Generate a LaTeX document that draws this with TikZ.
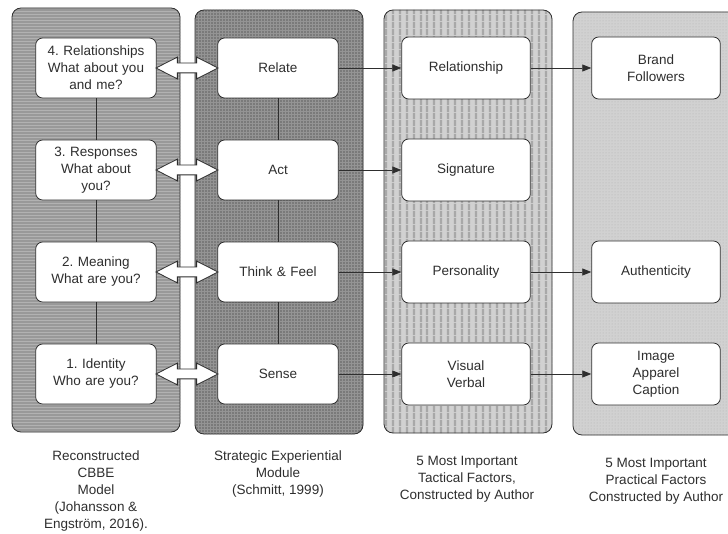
\documentclass[tikz,border=0pt]{standalone}
\usepackage{fontspec}
\setmainfont{Liberation Sans}
\usetikzlibrary{shapes, shapes.arrows, arrows.meta, patterns, patterns.meta, calc}

\definecolor{inkgray}{HTML}{2E2E2E}
\newcommand{\boxfont}{\fontsize{13.5}{17}\selectfont}

\tikzstyle{boxes} = [rectangle, rounded corners=7pt, minimum width=120pt, minimum height=60pt, text width=114pt,
align=center, draw=inkgray, line width=0.8pt, fill=white, text=inkgray, font=\boxfont]
\tikzstyle{wideBoxes} = [boxes, minimum width=128pt, minimum height=62pt, text width=122pt]
\tikzstyle{bigArrow} = [double arrow, draw=inkgray, fill=white, line width=0.8pt, inner xsep=0pt, inner ysep=4.5pt,
minimum height=62pt, double arrow head extend=6pt, double arrow tip angle=54]
\tikzstyle{line} = [line width=0.8pt, draw=inkgray]
\tikzstyle{arrow} = [line width=0.8pt, draw=inkgray, -{Triangle[length=9pt, width=7pt]}]
\tikzstyle{caption} = [align=center, text=inkgray, font=\boxfont, anchor=north]
\tikzstyle{panel} = [rounded corners=9pt, draw=inkgray, line width=0.8pt]
\tikzstyle{panelCbbe} = [panel, preaction={fill=black!40}, pattern=horizontal lines, pattern color=black!30]
\tikzstyle{panelSem} = [panel, preaction={fill=black!52}, pattern=grid, pattern color=black!42]
\tikzstyle{panelTactic} = [panel, preaction={fill=black!18},
pattern={Lines[angle=90, distance=6.5pt, line width=2.6pt]}, pattern color=black!34]
\tikzstyle{panelPractic} = [panel, preaction={fill=black!18}, pattern=dots, pattern color=black!30]

\begin{document}
\frenchspacing
\begin{tikzpicture}[x=1pt, y=-1pt, node distance=102pt]
    \useasboundingbox (0,0) rectangle (728,534);

    % background columns
    \draw[panelCbbe] (12,8) rectangle (180,432);
    \draw[panelSem] (195,10) rectangle (363,434);
    \draw[panelTactic] (384,10) rectangle (552,433);
    \draw[panelPractic] (573,12) rectangle (750,435);

    % CBBE column
    \node (c4) [boxes] at (96,68) {4. Relationships\\What about you\\and me?};
    \node (c3) [boxes, below of=c4] {3. Responses\\What about\\you?};
    \node (c2) [boxes, below of=c3] {2. Meaning\\What are you?};
    \node (c1) [boxes, below of=c2] {1. Identity\\Who are you?};

    % SEM column
    \node (s4) [boxes, right of=c4, xshift=80pt] {Relate};
    \node (s3) [boxes, right of=c3, xshift=80pt] {Act};
    \node (s2) [boxes, right of=c2, xshift=80pt] {Think \& Feel};
    \node (s1) [boxes, right of=c1, xshift=80pt] {Sense};

    % tactical factors
    \node (t4) [wideBoxes, right of=s4, xshift=86pt] {Relationship};
    \node (t3) [wideBoxes, right of=s3, xshift=86pt] {Signature};
    \node (t2) [wideBoxes, right of=s2, xshift=86pt] {Personality};
    \node (t1) [wideBoxes, right of=s1, xshift=86pt] {Visual\\Verbal};

    % practical factors
    \node (p4) [wideBoxes, right of=t4, xshift=88pt] {Brand\\Followers};
    \node (p2) [wideBoxes, right of=t2, xshift=88pt] {Authenticity};
    \node (p1) [wideBoxes, right of=t1, xshift=88pt] {Image\\Apparel\\Caption};

    \draw[line] (c4) -- (c3);
    \draw[line] (c3) -- (c2);
    \draw[line] (c2) -- (c1);
    \draw[line] (s4) -- (s3);
    \draw[line] (s3) -- (s2);
    \draw[line] (s2) -- (s1);

    \node (d4) [bigArrow] at ($(c4.east)!0.5!(s4.west)$) {};
    \node (d3) [bigArrow] at ($(c3.east)!0.5!(s3.west)$) {};
    \node (d2) [bigArrow] at ($(c2.east)!0.5!(s2.west)$) {};
    \node (d1) [bigArrow] at ($(c1.east)!0.5!(s1.west)$) {};

    \draw[arrow] (s4) -- (t4);
    \draw[arrow] (s3) -- (t3);
    \draw[arrow] (s2) -- (t2);
    \draw[arrow] (s1) -- (t1);
    \draw[arrow] (t4) -- (p4);
    \draw[arrow] (t2) -- (p2);
    \draw[arrow] (t1) -- (p1);

    % captions
    \node (capCbbe) [caption] at (96,447) {Reconstructed\\CBBE\\Model\\(Johansson \&\\Engström, 2016).};
    \node (capSem) [caption] at (278,447) {Strategic Experiential\\Module\\(Schmitt, 1999)};
    \node (capTactic) [caption] at (467,453) {5 Most Important\\Tactical Factors,\\Constructed by Author};
    \node (capPractic) [caption] at (656,455) {5 Most Important\\Practical Factors\\Constructed by Author};

\end{tikzpicture}
\end{document}
